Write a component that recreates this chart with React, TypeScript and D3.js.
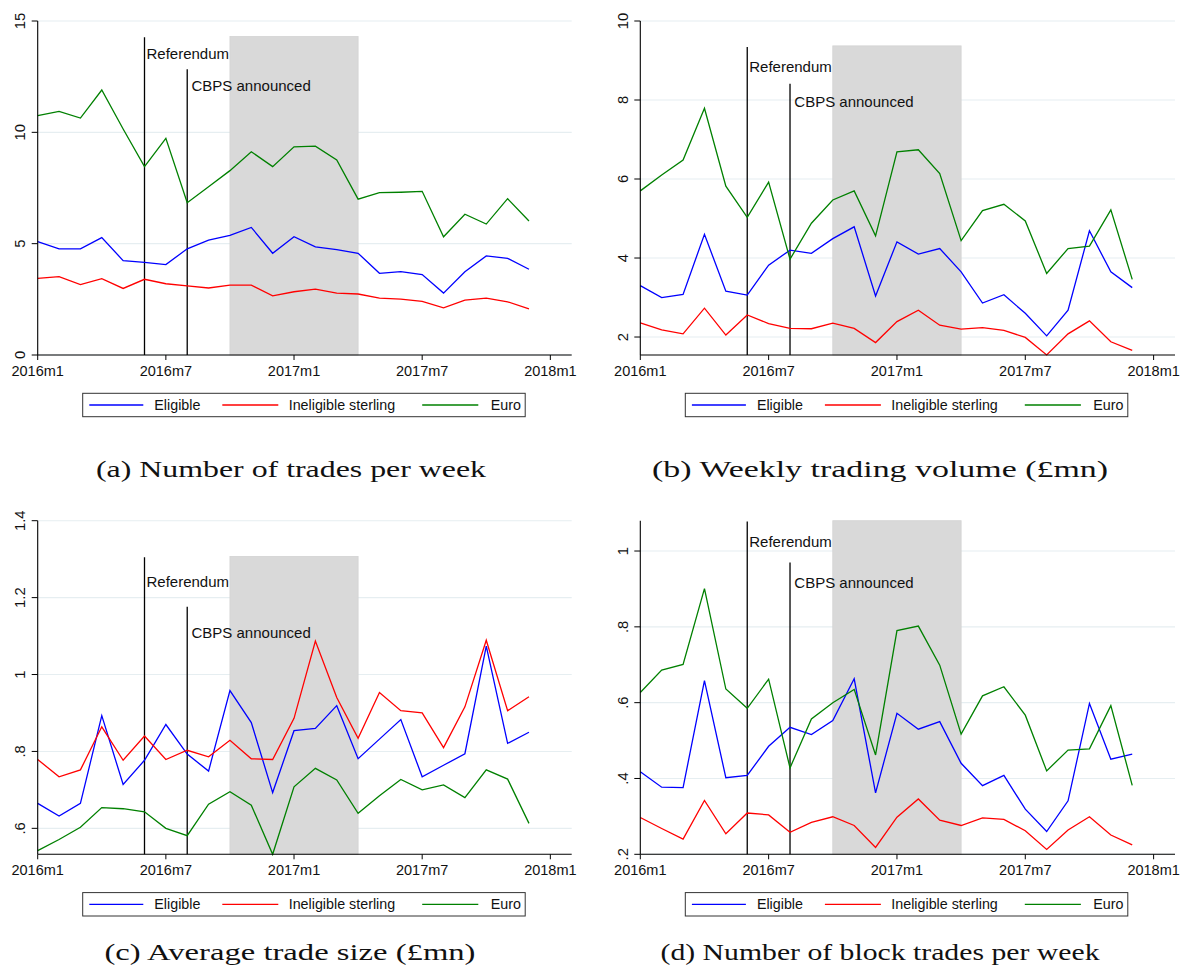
import React from 'react';
import * as d3 from 'd3';

// ---------- DATA ----------
const monthLabels = [
  '2016m1','2016m2','2016m3','2016m4','2016m5','2016m6','2016m7','2016m8','2016m9','2016m10','2016m11','2016m12',
  '2017m1','2017m2','2017m3','2017m4','2017m5','2017m6','2017m7','2017m8','2017m9','2017m10','2017m11','2017m12',
];
const xTickValues = [0, 6, 12, 18, 24];
const xTickLabels = ['2016m1', '2016m7', '2017m1', '2017m7', '2018m1'];
const seriesNames = ['Eligible', 'Ineligible sterling', 'Euro'];
const seriesColors = ['#0000ff', '#ff0000', '#008000'];
const referendumMonth = 5;
const cbpsMonth = 7;
const shadeStart = 9;
const shadeEnd = 15;

// (a) Number of trades per week
const tradesEligible = [5.09,4.77,4.77,5.27,4.24,4.16,4.06,4.77,5.16,5.37,5.73,4.57,5.31,4.86,4.73,4.57,3.67,3.74,3.61,2.78,3.74,4.45,4.34,3.85];
const tradesIneligible = [3.44,3.52,3.16,3.43,2.99,3.40,3.20,3.10,3.01,3.14,3.14,2.66,2.84,2.96,2.78,2.74,2.55,2.51,2.41,2.12,2.46,2.55,2.39,2.07];
const tradesEuro = [10.75,10.94,10.64,11.9,10.15,8.46,9.73,6.84,7.56,8.28,9.13,8.46,9.35,9.38,8.76,7.0,7.29,7.31,7.35,5.31,6.32,5.88,7.02,6.02];

// (b) Weekly trading volume (£mn)
const volumeEligible = [3.30,3.00,3.08,4.60,3.16,3.06,3.82,4.20,4.12,4.49,4.79,3.04,4.41,4.10,4.24,3.65,2.86,3.07,2.60,2.03,2.68,4.69,3.65,3.25];
const volumeIneligible = [2.36,2.18,2.08,2.73,2.05,2.56,2.34,2.22,2.21,2.35,2.22,1.86,2.39,2.68,2.30,2.20,2.24,2.17,1.99,1.545,2.08,2.41,1.88,1.66];
const volumeEuro = [5.70,6.10,6.48,7.79,5.82,5.03,5.92,3.97,4.88,5.47,5.70,4.56,6.69,6.74,6.14,4.44,5.20,5.36,4.94,3.61,4.24,4.30,5.22,3.46];

// (c) Average trade size (£mn)
const sizeEligible = [0.665,0.632,0.665,0.893,0.714,0.777,0.870,0.793,0.749,0.958,0.875,0.693,0.854,0.860,0.919,0.781,0.832,0.883,0.734,0.764,0.794,1.074,0.821,0.850];
const sizeIneligible = [0.779,0.734,0.752,0.864,0.777,0.840,0.779,0.803,0.786,0.829,0.781,0.779,0.886,1.087,0.940,0.834,0.953,0.906,0.900,0.810,0.916,1.089,0.906,0.942];
const sizeEuro = [0.542,0.571,0.603,0.654,0.651,0.643,0.600,0.581,0.663,0.695,0.660,0.5325,0.708,0.756,0.726,0.639,0.685,0.727,0.700,0.713,0.680,0.752,0.728,0.613];

// (d) Number of block trades per week
const blockEligible = [0.418,0.377,0.376,0.658,0.402,0.408,0.485,0.535,0.516,0.553,0.663,0.362,0.572,0.530,0.550,0.440,0.381,0.408,0.319,0.260,0.341,0.598,0.451,0.464];
const blockIneligible = [0.297,0.268,0.240,0.342,0.254,0.309,0.304,0.258,0.284,0.299,0.276,0.218,0.298,0.346,0.290,0.276,0.296,0.292,0.262,0.213,0.264,0.299,0.251,0.225];
const blockEuro = [0.627,0.686,0.701,0.901,0.636,0.585,0.662,0.428,0.557,0.600,0.635,0.462,0.790,0.802,0.699,0.517,0.618,0.642,0.567,0.420,0.475,0.478,0.592,0.382];

const captions = [
  '(a) Number of trades per week',
  '(b) Weekly trading volume (£mn)',
  '(c) Average trade size (£mn)',
  '(d) Number of block trades per week',
];

const yTicksA = [0, 5, 10, 15];
const yTickLabelsA = ['0', '5', '10', '15'];
const yTicksB = [2, 4, 6, 8, 10];
const yTickLabelsB = ['2', '4', '6', '8', '10'];
const yTicksC = [0.6, 0.8, 1, 1.2, 1.4];
const yTickLabelsC = ['.6', '.8', '1', '1.2', '1.4'];
const yTicksD = [0.2, 0.4, 0.6, 0.8, 1];
const yTickLabelsD = ['.2', '.4', '.6', '.8', '1'];

// y-domains and event-line heights (value units)
const yDomainA = [0, 15];
const yDomainB = [1.545, 10];
const yDomainC = [0.5325, 1.4];
const yDomainD = [0.2, 1.08];
const eventTopsA = [14.3, 14.27, 12.83]; // shade, referendum, cbps
const eventTopsB = [9.37, 9.34, 8.41];
const eventTopsC = [1.307, 1.305, 1.176];
const eventTopsD = [1.08, 1.078, 0.97];

// ---------- LAYOUT ----------
const SANS = '"Liberation Sans", Arial, Helvetica, sans-serif';
const SERIF = '"Liberation Serif", "Times New Roman", serif';

type PanelCfg = {
  left: number; right: number; top: number; bottom: number;
  domain: number[]; ticks: number[]; tickLabels: string[];
  series: number[][]; events: number[];
  caption: string; capX: number; capY: number; capLen: number;
  refLabelY: number; cbpsLabelY: number;
};

const panels: PanelCfg[] = [
  { left: 37.7, right: 571.7, top: 21, bottom: 355, domain: yDomainA, ticks: yTicksA, tickLabels: yTickLabelsA,
    series: [tradesEligible, tradesIneligible, tradesEuro], events: eventTopsA,
    caption: captions[0], capX: 291, capY: 476.7, capLen: 390, refLabelY: 59.3, cbpsLabelY: 90.5 },
  { left: 640.3, right: 1175, top: 21, bottom: 355, domain: yDomainB, ticks: yTicksB, tickLabels: yTickLabelsB,
    series: [volumeEligible, volumeIneligible, volumeEuro], events: eventTopsB,
    caption: captions[1], capX: 880, capY: 476.7, capLen: 456, refLabelY: 71.5, cbpsLabelY: 107 },
  { left: 37.7, right: 571.7, top: 520.7, bottom: 854.3, domain: yDomainC, ticks: yTicksC, tickLabels: yTickLabelsC,
    series: [sizeEligible, sizeIneligible, sizeEuro], events: eventTopsC,
    caption: captions[2], capX: 290, capY: 959.5, capLen: 371, refLabelY: 587, cbpsLabelY: 638 },
  { left: 640.3, right: 1175, top: 520.7, bottom: 854.3, domain: yDomainD, ticks: yTicksD, tickLabels: yTickLabelsD,
    series: [blockEligible, blockIneligible, blockEuro], events: eventTopsD,
    caption: captions[3], capX: 880, capY: 959.5, capLen: 439, refLabelY: 546.5, cbpsLabelY: 587.5 },
];

function Panel({ cfg }: { cfg: PanelCfg }) {
  const x = d3.scaleLinear().domain([0, 25]).range([cfg.left, cfg.right]);
  const y = d3.scaleLinear().domain(cfg.domain).range([cfg.bottom, cfg.top]);
  const line = d3.line<number>().x((_, i) => x(i)).y((v) => y(v));
  const [shadeTop, refTop, cbpsTop] = cfg.events;
  const L = cfg.left;
  const legY = cfg.bottom + 50;
  const legendItems = [
    { x1: L + 51.6, x2: L + 105.6, tx: L + 116.6 },
    { x1: L + 184.6, x2: L + 240.6, tx: L + 251 },
    { x1: L + 384.5, x2: L + 440.6, tx: L + 453 },
  ];
  return (
    <g>
      {/* gridlines */}
      {cfg.ticks.map((t) => (
        <line key={'g' + t} x1={cfg.left} x2={cfg.right} y1={y(t)} y2={y(t)} stroke="#e6eef1" strokeWidth={1.1} />
      ))}
      {/* shaded period */}
      <rect x={x(shadeStart)} y={y(shadeTop)} width={x(shadeEnd) - x(shadeStart)} height={cfg.bottom - y(shadeTop)}
        fill="#d9d9d9" stroke="#d3d3d3" strokeWidth={0.8} />
      {/* event lines */}
      <line x1={x(referendumMonth)} x2={x(referendumMonth)} y1={cfg.bottom} y2={y(refTop)} stroke="#000" strokeWidth={1.3} />
      <line x1={x(cbpsMonth)} x2={x(cbpsMonth)} y1={cfg.bottom} y2={y(cbpsTop)} stroke="#000" strokeWidth={1.3} />
      <text x={x(referendumMonth) + 2} y={cfg.refLabelY} fontFamily={SANS} fontSize={15} fill="#111">Referendum</text>
      <text x={x(cbpsMonth) + 4.3} y={cfg.cbpsLabelY} fontFamily={SANS} fontSize={15} fill="#111">CBPS announced</text>
      {/* series */}
      {cfg.series.map((s, i) => (
        <path key={'s' + i} d={line(s) || ''} fill="none" stroke={seriesColors[i]} strokeWidth={1.3} strokeLinejoin="miter" />
      ))}
      {/* axes */}
      <line x1={cfg.left} x2={cfg.left} y1={cfg.top} y2={cfg.bottom} stroke="#000" strokeWidth={1.1} />
      <line x1={cfg.left} x2={cfg.right} y1={cfg.bottom} y2={cfg.bottom} stroke="#000" strokeWidth={1.1} />
      {cfg.ticks.map((t, i) => (
        <g key={'yt' + t}>
          <line x1={cfg.left - 6} x2={cfg.left} y1={y(t)} y2={y(t)} stroke="#000" strokeWidth={1} />
          <text transform={`translate(${cfg.left - 12.7},${y(t)}) rotate(-90)`} textAnchor="middle"
            fontFamily={SANS} fontSize={14.8} fill="#111">{cfg.tickLabels[i]}</text>
        </g>
      ))}
      {xTickValues.map((t, i) => (
        <g key={'xt' + t}>
          <line x1={x(t)} x2={x(t)} y1={cfg.bottom} y2={cfg.bottom + 5} stroke="#000" strokeWidth={1} />
          <text x={x(t)} y={cfg.bottom + 20.7} textAnchor="middle" fontFamily={SANS} fontSize={14.5} fill="#111">{xTickLabels[i]}</text>
        </g>
      ))}
      {/* legend */}
      <rect x={L + 45} y={cfg.bottom + 38.3} width={442.5} height={23.4} fill="#fff" stroke="#333" strokeWidth={1} />
      {legendItems.map((it, i) => (
        <g key={'l' + i}>
          <line x1={it.x1} x2={it.x2} y1={legY} y2={legY} stroke={seriesColors[i]} strokeWidth={1.3} />
          <text x={it.tx} y={legY + 5} fontFamily={SANS} fontSize={14.3} fill="#111">{seriesNames[i]}</text>
        </g>
      ))}
      {/* caption */}
      <text x={cfg.capX} y={cfg.capY} textAnchor="middle" fontFamily={SERIF} fontSize={22.5} fill="#111"
        textLength={cfg.capLen} lengthAdjust="spacingAndGlyphs">{cfg.caption}</text>
    </g>
  );
}

export default function App() {
  return (
    <svg width={1180} height={980} viewBox="0 0 1180 980"
      style={{ position: 'absolute', left: 0, top: 0, background: '#fff' }} data-months={monthLabels.length}>
      <rect x={0} y={0} width={1180} height={980} fill="#fff" />
      {panels.map((p, i) => <Panel key={i} cfg={p} />)}
    </svg>
  );
}
